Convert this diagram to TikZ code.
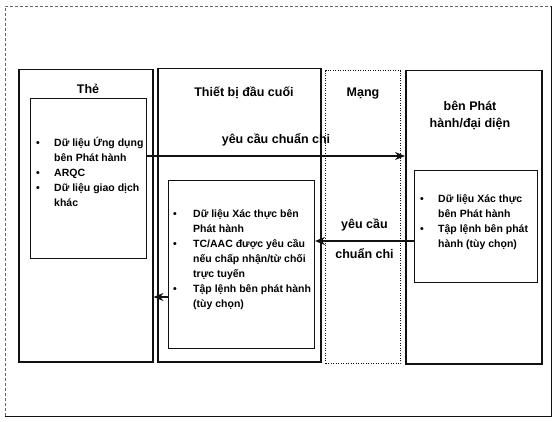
\documentclass[tikz,border=0pt]{standalone}
\usepackage{fontspec}
\setmainfont{Liberation Sans}
\usepackage{array}
\usetikzlibrary{arrows.meta}
\definecolor{inkdark}{HTML}{111111}
\definecolor{framegray}{HTML}{666666}
\newcommand{\bodyfont}{\fontsize{10.5}{15}\selectfont\bfseries}
\newcommand{\headfont}{\fontsize{12.5}{17}\selectfont\bfseries}
\newcommand{\bl}{\textbullet}

\begin{document}
\begin{tikzpicture}[x=1pt, y=-1pt,
  panel/.style={draw=inkdark, line width=1.5pt, anchor=north west, inner sep=0pt},
  netpanel/.style={panel, line width=1.4pt, dash pattern=on 1.2pt off 1.3pt},
  databox/.style={draw=inkdark, line width=1pt, anchor=north west, inner sep=0pt},
  datalist/.style={anchor=north west, inner sep=0pt, font=\bodyfont, align=left},
  head/.style={font=\headfont, align=center, inner sep=0pt},
  msg/.style={-{Stealth[length=10pt,width=8pt]}, draw=inkdark, line width=1.3pt},
  msglabel/.style={font=\headfont, inner sep=0pt}
]
  \useasboundingbox (0,0) rectangle (556,422);

  % outer frame
  \draw[framegray, line width=0.6pt, densely dashed] (5,416) -- (5,6) -- (551,6);
  \draw[inkdark, line width=0.9pt] (5,416) -- (551,416) -- (551,6);

  % panels
  \node[panel, minimum width=134pt, minimum height=292pt] (card) at (18,69) {};
  \node[panel, minimum width=163pt, minimum height=293pt] (terminal) at (157,68) {};
  \node[netpanel, minimum width=75pt, minimum height=293pt] (network) at (325,70) {};
  \node[panel, minimum width=136pt, minimum height=293pt] (issuer) at (405,70) {};

  \node[head] (cardtitle) at (88,89) {Thẻ};
  \node[head] (termtitle) at (244,93) {Thiết bị đầu cuối};
  \node[head] (nettitle) at (363,94) {Mạng};
  \node[head] (issuertitle) at (470,115) {bên Phát\\hành/đại diện};

  % data boxes
  \node[databox, minimum width=116pt, minimum height=160pt] (cardinfo) at (30,98) {};
  \node[databox, minimum width=146pt, minimum height=168pt] (terminfo) at (168,180) {};
  \node[databox, minimum width=123pt, minimum height=112pt] (issuerinfo) at (414,170) {};

  \node[datalist] (cardlist) at (36,135.5) {%
    \begin{tabular}{@{}p{18pt}@{}l@{}}
      \bl & Dữ liệu Ứng dụng\\
          & bên Phát hành\\
      \bl & ARQC\\
      \bl & Dữ liệu giao dịch\\
          & khác
    \end{tabular}};
  \node[datalist] (termlist) at (173,206.5) {%
    \begin{tabular}{@{}p{20pt}@{}l@{}}
      \bl & Dữ liệu Xác thực bên\\
          & Phát hành\\
      \bl & TC/AAC được yêu cầu\\
          & nếu chấp nhận/từ chối\\
          & trực tuyến\\
      \bl & Tập lệnh bên phát hành\\
          & (tùy chọn)
    \end{tabular}};
  \node[datalist] (issuerlist) at (420,191.5) {%
    \begin{tabular}{@{}p{18pt}@{}l@{}}
      \bl & Dữ liệu Xác thực\\
          & bên Phát hành\\
      \bl & Tập lệnh bên phát\\
          & hành (tùy chọn)
    \end{tabular}};

  % messages
  \coordinate (reqrow) at (0,156);
  \coordinate (resprow) at (0,241);
  \coordinate (backrow) at (0,297);

  \draw[msg] (cardinfo.east |- reqrow) -- node[msglabel, above=9pt] {yêu cầu chuẩn chi} (issuer.west |- reqrow);
  \draw[msg] (issuerinfo.west |- resprow) -- node[msglabel, above=9pt] {yêu cầu} node[msglabel, below=7pt] {chuẩn chi} (terminfo.east |- resprow);
  \draw[msg] (terminfo.west |- backrow) -- (card.east |- backrow);
\end{tikzpicture}
\end{document}
